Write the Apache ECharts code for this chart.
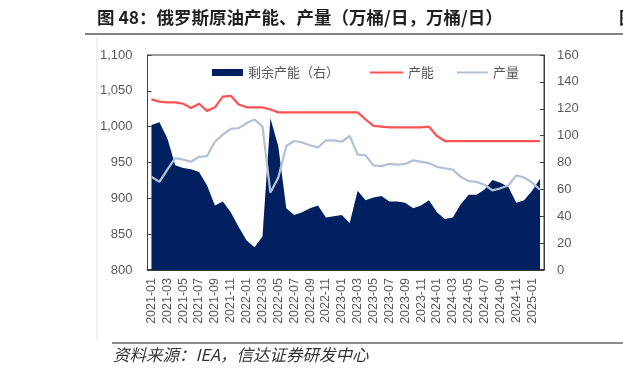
<!DOCTYPE html>
<html><head><meta charset="utf-8">
<script src="https://cdn.jsdelivr.net/npm/echarts@6/dist/echarts.min.js"></script>
<style>html,body{margin:0;padding:0;background:#fff}#c{width:623px;height:374px}</style>
</head><body><div id="c"></div>
<script>
const categories = ["2021-01","2021-02","2021-03","2021-04","2021-05","2021-06","2021-07","2021-08","2021-09","2021-10","2021-11","2021-12",
"2022-01","2022-02","2022-03","2022-04","2022-05","2022-06","2022-07","2022-08","2022-09","2022-10","2022-11","2022-12",
"2023-01","2023-02","2023-03","2023-04","2023-05","2023-06","2023-07","2023-08","2023-09","2023-10","2023-11","2023-12",
"2024-01","2024-02","2024-03","2024-04","2024-05","2024-06","2024-07","2024-08","2024-09","2024-10","2024-11","2024-12",
"2025-01","2025-02"];
const capacity = [1038,1035,1034,1034,1032,1026,1032,1022,1027,1042,1043,1031,1027,1027,1027,1024,1020,1020,1020,1020,1020,1020,1020,1020,1020,1020,1020,1010,1001,1000,999,999,999,999,999,1000,987,980,980,980,980,980,980,980,980,980,980,980,980,980];
const production = [930,923,940,956,954,951,958,959,979,989,997,998,1005,1010,1000,908,929,973,980,978,974,971,981,981,979,987,961,960,946,945,948,947,948,953,951,949,944,942,940,930,924,923,919,911,914,918,932,929,922,912];
const spare = [108,110,98,78,76,75,73,63,48,51,43,32,22,17,25,113,92,46,41,43,46,48,39,40,41,35,59,52,54,55,51,51,50,46,48,52,43,38,39,49,56,56,60,67,65,62,50,52,59,68];
const leftTicks = {min:800, max:1100, interval:50};
const rightTicks = {min:0, max:160, interval:20};
const titleText = "图 48：俄罗斯原油产能、产量（万桶/日，万桶/日）";
const sourceText = "资料来源：IEA，信达证券研发中心";
const names = ["剩余产能（右）","产能","产量"];

const FONT = '"Liberation Sans","Noto Sans CJK SC",sans-serif';
const CJK = '"Noto Sans CJK SC","Liberation Sans",sans-serif';
const labelColor = '#595959';
const chart = echarts.init(document.getElementById('c'), null, {renderer:'canvas'});
const legendText = {color:labelColor, fontSize:13, fontFamily:CJK};
chart.setOption({
  animation:false,
  backgroundColor:'#fff',
  grid:{left:147.5, right:79, top:55, height:215, show:true, borderColor:'#404040', borderWidth:1, backgroundColor:'transparent'},
  legend:[
    {data:[{name:names[0], icon:'rect'}], left:212, top:66, padding:0, itemWidth:31, itemHeight:7, textStyle:legendText, selectedMode:false},
    {data:[names[1]], left:369, top:66, padding:0, itemWidth:33, itemHeight:7, textStyle:legendText, selectedMode:false, itemStyle:{opacity:0}},
    {data:[names[2]], left:456, top:66, padding:0, itemWidth:31, itemHeight:7, textStyle:legendText, selectedMode:false, itemStyle:{opacity:0}}
  ],
  xAxis:{type:'category', data:categories, boundaryGap:true,
    axisLine:{show:true, lineStyle:{color:'#1a1a1a', width:1.5}},
    axisTick:{show:true, inside:true, interval:1, length:4, lineStyle:{color:'#404040'}},
    axisLabel:{interval:1, rotate:90, color:labelColor, fontSize:12.5, fontFamily:FONT, margin:8},
    splitLine:{show:false}},
  yAxis:[
    {type:'value', min:leftTicks.min, max:leftTicks.max, interval:leftTicks.interval,
     axisLine:{show:true, lineStyle:{color:'#404040'}},
     axisTick:{show:true, inside:true, length:4, lineStyle:{color:'#404040'}},
     axisLabel:{color:labelColor, fontSize:13, fontFamily:FONT, margin:15,
       formatter:v=>v.toLocaleString('en-US')},
     splitLine:{show:false}},
    {type:'value', min:rightTicks.min, max:rightTicks.max, interval:rightTicks.interval, position:'right',
     axisLine:{show:true, lineStyle:{color:'#404040'}},
     axisTick:{show:true, inside:true, length:4, lineStyle:{color:'#404040'}},
     axisLabel:{color:labelColor, fontSize:13, fontFamily:FONT, margin:13},
     splitLine:{show:false}}
  ],
  series:[
    {name:names[0], type:'line', yAxisIndex:1, data:spare, symbol:'none', smooth:false,
     lineStyle:{width:0, color:'#002060'}, itemStyle:{color:'#002060'},
     areaStyle:{color:'#002060', opacity:1}, z:1},
    {name:names[1], type:'line', yAxisIndex:0, data:capacity, symbol:'none',
     lineStyle:{width:2.25, color:'#FF5252'}, itemStyle:{color:'#FF5252'}, z:3},
    {name:names[2], type:'line', yAxisIndex:0, data:production, symbol:'none',
     lineStyle:{width:2.25, color:'#B4C0D4'}, itemStyle:{color:'#B4C0D4'}, z:2}
  ],
  graphic:[
    {type:'text', left:97, top:9, style:{text:titleText, fill:'#1f1f1f', font:'bold 17.5px '+CJK}},
    {type:'text', style:{x:619, y:9, text:'图', fill:'#1f1f1f', font:'bold 17.5px '+CJK}},
    {type:'line', shape:{x1:85, y1:34, x2:623, y2:34}, style:{stroke:'#808080', lineWidth:2}},
    {type:'line', shape:{x1:97, y1:38, x2:97, y2:340}, style:{stroke:'#e3e3e3', lineWidth:1}},
    {type:'line', shape:{x1:112, y1:343, x2:623, y2:343}, style:{stroke:'#8c8c8c', lineWidth:2}},
    {type:'text', left:113, top:346, style:{text:sourceText, fill:'#333', font:'italic 16.5px '+CJK}}
  ]
});
</script></body></html>
